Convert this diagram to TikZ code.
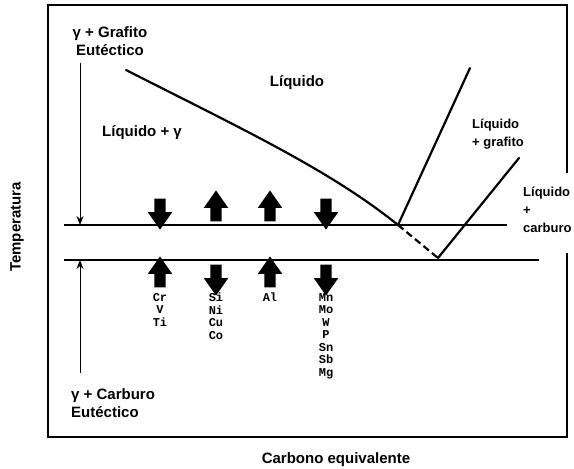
\documentclass[tikz,border=0pt]{standalone}
\usepackage{fontspec}
\setmainfont{Liberation Sans}
\setmonofont{Liberation Mono}
\usetikzlibrary{shapes.arrows, arrows.meta}

\begin{document}
\begin{tikzpicture}[x=1pt, y=-1pt]

        \tikzstyle{label} = [font=\fontsize{15}{17}\selectfont\bfseries, inner sep=0];
        \tikzstyle{smalllabel} = [font=\fontsize{13}{18}\selectfont\bfseries, inner sep=0, align=left, anchor=west];
        \tikzstyle{element} = [font=\fontsize{12}{12.5}\selectfont\ttfamily\bfseries, inner sep=0, align=center, anchor=north];
        \tikzstyle{bigarrow} = [single arrow, fill=black, draw=none, inner sep=5.5pt, minimum height=31pt, single arrow head extend=6.5pt, single arrow tip angle=70];
        \tikzstyle{uparrow} = [bigarrow, shape border rotate=90];
        \tikzstyle{downarrow} = [bigarrow, shape border rotate=270];
        \tikzstyle{arrow} = [line width=1pt, -{Stealth[length=9pt, width=7pt]}];
        \tikzstyle{phase} = [line width=2.2pt, line cap=round];

        \path[use as bounding box] (0,0) rectangle (574,469);

        % frame, open on the right for the label
        \draw[line width=1.8pt] (567,173) -- (567,5) -- (48,5) -- (48,437) -- (567,437) -- (567,253);

        % the two eutectic lines
        \coordinate (TL) at (64,225);
        \coordinate (TR) at (507,225);
        \coordinate (BL) at (64,260);
        \coordinate (BR) at (539,260);
        \draw[line width=1.3pt] (TL) -- (TR);
        \draw[line width=1.3pt] (BL) -- (BR);

        % liquidus
        \coordinate (LS) at (126,70);
        \coordinate (EG) at (398,225);
        \coordinate (EC) at (438,258);
        \coordinate (GT) at (470,68);
        \coordinate (CT) at (519,158);
        \draw[phase] (LS) .. controls (240,128) and (330,170) .. (EG);
        \draw[phase] (EG) -- (GT);
        \draw[phase, line cap=butt, dash pattern=on 7pt off 4pt] (EG) -- (EC);
        \draw[phase] (EC) -- (CT);

        % left arrows
        \coordinate (GA) at (80,63);
        \coordinate (CA) at (80,373);
        \draw[arrow] (GA) -- (GA |- TL);
        \draw[arrow] (CA) -- (CA |- BL);

        % labels
        \node[label, align=center] (GE) at (110,41) {γ + Grafito\\[1pt]Eutéctico};
        \node[label, align=left, anchor=west] (CE) at (71,403) {γ + Carburo\\[1pt]Eutéctico};
        \node[label] (Liq) at (297,83) {Líquido};
        \node[label] (LiqG) at (142,133) {Líquido + γ};
        \node[smalllabel] (LiqGr) at (472,134) {Líquido\\+ grafito};
        \node[smalllabel] (LiqC) at (523,210) {Líquido\\+\\carburo};
        \node[label, rotate=90] (Temp) at (17,227) {Temperatura};
        \node[label] (Ceq) at (336,460) {Carbono equivalente};

        % alloying elements
        \node[downarrow] (A1) at (160,210) {};
        \node[uparrow] (A2) at (216,210) {};
        \node[uparrow] (A3) at (270,210) {};
        \node[downarrow] (A4) at (326,210) {};

        \node[uparrow] (B1) at (160,276) {};
        \node[downarrow] (B2) at (216,276) {};
        \node[uparrow] (B3) at (270,276) {};
        \node[downarrow] (B4) at (326,276) {};

        \node[element] (E1) at (160,293) {Cr\\V\\Ti};
        \node[element] (E2) at (216,293) {Si\\Ni\\Cu\\Co};
        \node[element] (E3) at (270,293) {Al};
        \node[element] (E4) at (326,293) {Mn\\Mo\\W\\P\\Sn\\Sb\\Mg};

\end{tikzpicture}
\end{document}
